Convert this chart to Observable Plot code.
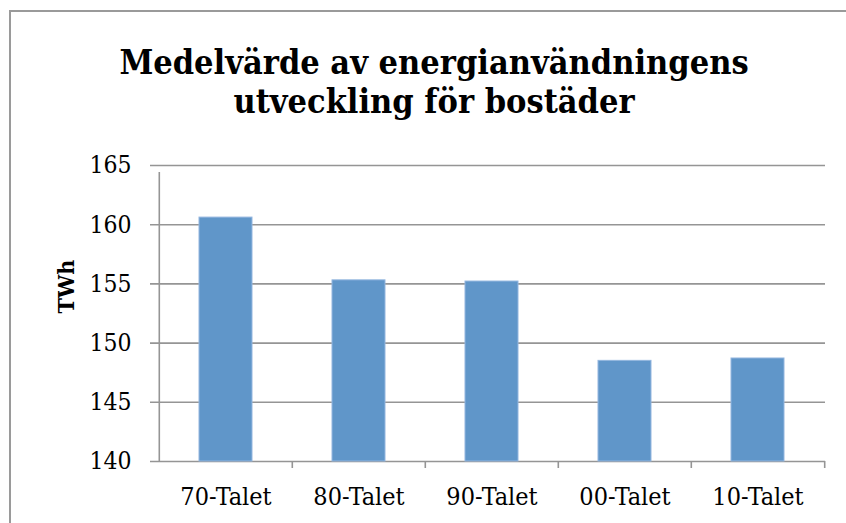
<!DOCTYPE html>
<html>
<head>
<meta charset="utf-8">
<script src="https://cdn.jsdelivr.net/npm/d3@7"></script>
<script src="https://cdn.jsdelivr.net/npm/@observablehq/plot@0.6"></script>
<style>
  html, body { margin: 0; padding: 0; background: #fff; overflow: hidden; }
  #wrap { position: relative; width: 846px; height: 523px; overflow: hidden; background: #fff; }
  #box { position: absolute; left: 9px; top: 10px; width: 900px; height: 600px; border: 2px solid #9a9a9a; box-sizing: border-box; }
  #title { position: absolute; left: 10px; width: 848px; top: 43px; text-align: center;
           font-family: "DejaVu Serif Condensed", "DejaVu Serif", serif; font-weight: bold; font-size: 34px; line-height: 39px; color: #000; }
  #chart { position: absolute; left: 0; top: 0; }
</style>
</head>
<body>
<div id="wrap">
  <div id="box"></div>
  <div id="chart"></div>
  <div id="title">Medelvärde av energianvändningens<br>utveckling för bostäder</div>
</div>
<script>
const categories = ["70-Talet", "80-Talet", "90-Talet", "00-Talet", "10-Talet"];
const values = [160.6, 155.3, 155.2, 148.5, 148.7];
const yTicks = [140, 145, 150, 155, 160, 165];
const yLabel = "TWh";

const data = categories.map((c, i) => ({cat: c, value: values[i]}));

const W = 846, H = 523, ML = 158, MR = 21, MT = 165, MB = 62;
const step = (W - ML - MR) / categories.length;
const lastCat = categories[categories.length - 1];
const gridColor = "#959595";

const chart = Plot.plot({
  width: W,
  height: H,
  marginLeft: ML,
  marginRight: MR,
  marginTop: MT,
  marginBottom: MB,
  style: {fontFamily: "'DejaVu Serif Condensed', 'DejaVu Serif', serif", background: "transparent", overflow: "visible"},
  x: {domain: categories, paddingInner: 0.6, paddingOuter: 0.3, label: null},
  y: {domain: [140, 165], label: null},
  marks: [
    Plot.ruleY(yTicks, {y: d => d, stroke: gridColor, strokeWidth: 1.6, insetLeft: -8}),
    Plot.barY(data, {x: "cat", y1: 140, y2: "value", fill: "#6096c9", stroke: "#93b6df", strokeWidth: 1}),
    // y axis line (left boundary of first band), extending just below the x axis
    Plot.ruleX([categories[0]], {x: d => d, dx: -step / 2, y1: 140, y2: 165, insetBottom: -7, stroke: gridColor, strokeWidth: 1.6}),
    // x axis ticks at band boundaries
    Plot.ruleX(categories.slice(1), {x: d => d, dx: -step / 2, y1: 140, y2: 140, insetBottom: -7, stroke: gridColor, strokeWidth: 1.6}),
    Plot.ruleX([lastCat], {x: d => d, dx: step / 2, y1: 140, y2: 140, insetBottom: -7, stroke: gridColor, strokeWidth: 1.6}),
    Plot.axisY({ticks: yTicks, tickSize: 0, tickPadding: 27, fontSize: 24.5, fill: "#000", label: null, tickFormat: d => String(d)}),
    Plot.axisX({tickSize: 0, tickPadding: 26, fontSize: 25, fill: "#000", label: null}),
    Plot.text([yLabel], {frameAnchor: "left", text: d => d, rotate: -90, dx: -92, fontWeight: "bold", fontSize: 23, fill: "#000"})
  ]
});
document.getElementById("chart").appendChild(chart);
</script>
</body>
</html>
